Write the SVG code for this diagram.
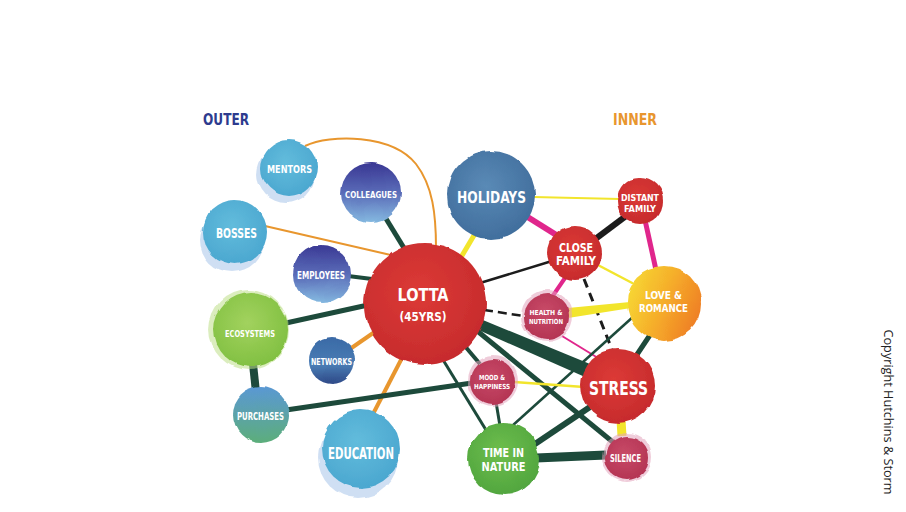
<svg xmlns="http://www.w3.org/2000/svg" width="906" height="512" viewBox="0 0 906 512">
<defs>
<style>
.lbl{font-family:"DejaVu Sans Condensed","DejaVu Sans",sans-serif;font-weight:bold;fill:#ffffff;text-anchor:middle}
.ttl{font-family:"DejaVu Sans Condensed","DejaVu Sans",sans-serif;font-weight:bold}
.g{stroke:#1d4a3b;fill:none}
.o{stroke:#e8962e;fill:none}
.y{stroke:#f2e52c;fill:none}
.m{stroke:#e0268c;fill:none}
.k{stroke:#1c1c1c;fill:none}
.halo{opacity:0.55}
</style>
<filter id="wc" x="-15%" y="-15%" width="130%" height="130%">
<feTurbulence type="fractalNoise" baseFrequency="0.045" numOctaves="2" seed="4" result="n"/>
<feDisplacementMap in="SourceGraphic" in2="n" scale="5" xChannelSelector="R" yChannelSelector="G"/>
</filter>
<radialGradient id="red" cx="45%" cy="40%" r="65%"><stop offset="0" stop-color="#dc3a36"/><stop offset="1" stop-color="#c52a2c"/></radialGradient>
<radialGradient id="rasp" cx="45%" cy="40%" r="65%"><stop offset="0" stop-color="#c84a68"/><stop offset="1" stop-color="#b33352"/></radialGradient>
<radialGradient id="lblue" cx="45%" cy="40%" r="65%"><stop offset="0" stop-color="#62bcdc"/><stop offset="1" stop-color="#4aa6cf"/></radialGradient>
<radialGradient id="steel" cx="45%" cy="40%" r="65%"><stop offset="0" stop-color="#5a8ab6"/><stop offset="1" stop-color="#3f6c9b"/></radialGradient>
<linearGradient id="purp" x1="0" y1="0" x2="0" y2="1"><stop offset="0" stop-color="#3a3894"/><stop offset="0.5" stop-color="#5a6cb8"/><stop offset="1" stop-color="#84b8e0"/></linearGradient>
<linearGradient id="netw" x1="0" y1="0" x2="0" y2="1"><stop offset="0" stop-color="#3a6aa6"/><stop offset="0.6" stop-color="#4a7cb4"/><stop offset="1" stop-color="#2e4a88"/></linearGradient>
<radialGradient id="eco" cx="45%" cy="40%" r="65%"><stop offset="0" stop-color="#a2d25e"/><stop offset="1" stop-color="#7fbf40"/></radialGradient>
<linearGradient id="purch" x1="0" y1="0" x2="0" y2="1"><stop offset="0" stop-color="#5a98d4"/><stop offset="1" stop-color="#5cae7a"/></linearGradient>
<radialGradient id="tin" cx="45%" cy="40%" r="65%"><stop offset="0" stop-color="#6ebe4c"/><stop offset="1" stop-color="#4fa43e"/></radialGradient>
<linearGradient id="love" x1="0" y1="0.3" x2="1" y2="0.7"><stop offset="0" stop-color="#f7d832"/><stop offset="0.55" stop-color="#f5a82a"/><stop offset="1" stop-color="#ee7c24"/></linearGradient>
</defs>
<rect width="906" height="512" fill="#ffffff"/>

<text class="ttl" x="203" y="125" font-size="16" fill="#2d3b8e" textLength="46" lengthAdjust="spacingAndGlyphs">OUTER</text>
<text class="ttl" x="613" y="125" font-size="16" fill="#e8962e" textLength="44" lengthAdjust="spacingAndGlyphs">INNER</text>

<g id="connectors" stroke-linecap="butt">
<path class="o" stroke-width="2" d="M305,146 C330,134 392,134 416,164 C433,186 436,215 436,248"/>
<line class="o" stroke-width="2" x1="265" y1="226" x2="395" y2="256"/>
<line class="g" stroke-width="5" x1="385" y1="217" x2="404" y2="248"/>
<line class="g" stroke-width="4" x1="348" y1="276" x2="372" y2="279"/>
<line class="g" stroke-width="5" x1="286" y1="323" x2="368" y2="305"/>
<line class="o" stroke-width="4" x1="350" y1="349" x2="376" y2="331"/>
<line class="o" stroke-width="4" x1="373" y1="414" x2="403" y2="356"/>
<line class="g" stroke-width="8" x1="253" y1="364" x2="256" y2="392"/>
<line class="g" stroke-width="5" x1="286" y1="410" x2="472" y2="383"/>
<line class="y" stroke-width="5" x1="476" y1="232" x2="460" y2="259"/>
<line class="y" stroke-width="2" x1="533" y1="197" x2="620" y2="199"/>
<line class="m" stroke-width="6" x1="526" y1="216" x2="558" y2="236"/>
<line class="k" stroke-width="6" x1="594" y1="240" x2="626" y2="216"/>
<line class="m" stroke-width="5" x1="645" y1="220" x2="656" y2="270"/>
<line class="y" stroke-width="2.5" x1="596" y1="264" x2="636" y2="285"/>
<line class="k" stroke-width="2.5" x1="480" y1="283" x2="552" y2="261"/>
<line class="m" stroke-width="4" x1="567" y1="275" x2="552" y2="297"/>
<line class="k" stroke-width="3" stroke-dasharray="9,6" x1="584" y1="279" x2="613" y2="352"/>
<line class="k" stroke-width="2.5" stroke-dasharray="9,5" x1="484" y1="310" x2="524" y2="316"/>
<path fill="#f2e52c" d="M568,308 L630,302 L631,308 L568,318 Z"/>
<line class="m" stroke-width="2" x1="562" y1="336" x2="598" y2="358"/>
<line class="g" stroke-width="5" x1="650" y1="335" x2="636" y2="356"/>
<line class="g" stroke-width="2.5" x1="634" y1="316" x2="512" y2="426"/>
<path fill="#1d4a3b" d="M478,318 L590,364 L585,377 L474,328 Z"/>
<line class="g" stroke-width="5" x1="470" y1="325" x2="614" y2="443"/>
<line class="g" stroke-width="3" x1="437" y1="350" x2="486" y2="430"/>
<line class="g" stroke-width="4" x1="458" y1="338" x2="480" y2="364"/>
<line class="y" stroke-width="2.5" x1="514" y1="382" x2="584" y2="387"/>
<line class="g" stroke-width="3" x1="496" y1="402" x2="500" y2="426"/>
<line class="g" stroke-width="6" x1="590" y1="407" x2="532" y2="446"/>
<line class="g" stroke-width="9" x1="536" y1="458" x2="606" y2="455"/>
<line class="y" stroke-width="9" x1="621" y1="420" x2="622" y2="436"/>
</g>

<g id="node-mentors">
<circle class="halo" cx="286" cy="174" r="29" fill="#a9c6ea" filter="url(#wc)"/>
<circle cx="289" cy="168" r="28" fill="url(#lblue)" filter="url(#wc)"/>
<text class="lbl" x="289.5" y="172.5" font-size="10" textLength="45" lengthAdjust="spacingAndGlyphs">MENTORS</text>
</g>
<g id="node-colleagues">
<circle cx="371" cy="193" r="30" fill="url(#purp)" filter="url(#wc)"/>
<text class="lbl" x="371" y="197.5" font-size="9.5" textLength="52" lengthAdjust="spacingAndGlyphs">COLLEAGUES</text>
</g>
<g id="node-bosses">
<circle class="halo" cx="232" cy="240" r="32" fill="#a9c6ea" filter="url(#wc)"/>
<circle cx="235" cy="232" r="32" fill="url(#lblue)" filter="url(#wc)"/>
<text class="lbl" x="236.5" y="238" font-size="13.5" textLength="41" lengthAdjust="spacingAndGlyphs">BOSSES</text>
</g>
<g id="node-employees">
<circle cx="322" cy="274" r="29" fill="url(#purp)" filter="url(#wc)"/>
<text class="lbl" x="321" y="278.5" font-size="10" textLength="48" lengthAdjust="spacingAndGlyphs">EMPLOYEES</text>
</g>
<g id="node-ecosystems">
<circle class="halo" cx="249" cy="330" r="40" fill="#bfe08a" filter="url(#wc)"/>
<circle cx="251" cy="330" r="37" fill="url(#eco)" filter="url(#wc)"/>
<text class="lbl" x="250" y="336.5" font-size="9.5" textLength="50" lengthAdjust="spacingAndGlyphs">ECOSYSTEMS</text>
</g>
<g id="node-networks">
<circle cx="332" cy="360" r="23" fill="url(#netw)" filter="url(#wc)"/>
<text class="lbl" x="331.5" y="364.5" font-size="9" textLength="41" lengthAdjust="spacingAndGlyphs">NETWORKS</text>
</g>
<g id="node-purchases">
<circle cx="261" cy="415" r="28" fill="url(#purch)" filter="url(#wc)"/>
<text class="lbl" x="260.5" y="420" font-size="10.5" textLength="47" lengthAdjust="spacingAndGlyphs">PURCHASES</text>
</g>
<g id="node-education">
<circle class="halo" cx="358" cy="458" r="40" fill="#a9c6ea" filter="url(#wc)"/>
<circle cx="361" cy="449" r="39" fill="url(#lblue)" filter="url(#wc)"/>
<text class="lbl" x="361" y="458.5" font-size="15" textLength="66" lengthAdjust="spacingAndGlyphs">EDUCATION</text>
</g>
<g id="node-lotta">
<circle cx="425" cy="304" r="61" fill="url(#red)" filter="url(#wc)"/>
<text class="lbl" x="423" y="301" font-size="18" textLength="51" lengthAdjust="spacingAndGlyphs">LOTTA</text>
<text class="lbl" x="423" y="321" font-size="12" textLength="47" lengthAdjust="spacingAndGlyphs">(45YRS)</text>
</g>
<g id="node-holidays">
<circle cx="491" cy="195" r="44" fill="url(#steel)" filter="url(#wc)"/>
<text class="lbl" x="491.5" y="203" font-size="16" textLength="69" lengthAdjust="spacingAndGlyphs">HOLIDAYS</text>
</g>
<g id="node-distant-family">
<circle cx="640" cy="201" r="23" fill="url(#red)" filter="url(#wc)"/>
<text class="lbl" x="640" y="200.5" font-size="9.5" textLength="38" lengthAdjust="spacingAndGlyphs">DISTANT</text>
<text class="lbl" x="640" y="212" font-size="9.5" textLength="32" lengthAdjust="spacingAndGlyphs">FAMILY</text>
</g>
<g id="node-close-family">
<circle cx="575" cy="253" r="27" fill="url(#red)" filter="url(#wc)"/>
<text class="lbl" x="576" y="251.5" font-size="11.5" textLength="34" lengthAdjust="spacingAndGlyphs">CLOSE</text>
<text class="lbl" x="576" y="265" font-size="11.5" textLength="40" lengthAdjust="spacingAndGlyphs">FAMILY</text>
</g>
<g id="node-love-romance">
<circle cx="664" cy="303" r="37" fill="url(#love)" filter="url(#wc)"/>
<text class="lbl" x="663.5" y="299" font-size="10.5" textLength="37" lengthAdjust="spacingAndGlyphs">LOVE &amp;</text>
<text class="lbl" x="663.5" y="312" font-size="10.5" textLength="49" lengthAdjust="spacingAndGlyphs">ROMANCE</text>
</g>
<g id="node-health-nutrition">
<circle class="halo" cx="547" cy="316" r="26" fill="#e3a4bc" filter="url(#wc)"/>
<circle cx="547" cy="317" r="23" fill="url(#rasp)" filter="url(#wc)"/>
<text class="lbl" x="546" y="315" font-size="7" textLength="33" lengthAdjust="spacingAndGlyphs">HEALTH &amp;</text>
<text class="lbl" x="546" y="324" font-size="7" textLength="34" lengthAdjust="spacingAndGlyphs">NUTRITION</text>
</g>
<g id="node-stress">
<circle cx="618" cy="386" r="37" fill="url(#red)" filter="url(#wc)"/>
<text class="lbl" x="618.5" y="395" font-size="20" textLength="59" lengthAdjust="spacingAndGlyphs">STRESS</text>
</g>
<g id="node-mood-happiness">
<circle class="halo" cx="493" cy="381" r="25" fill="#e3a4bc" filter="url(#wc)"/>
<circle cx="493" cy="382" r="22" fill="url(#rasp)" filter="url(#wc)"/>
<text class="lbl" x="492" y="380" font-size="7" textLength="26" lengthAdjust="spacingAndGlyphs">MOOD &amp;</text>
<text class="lbl" x="492" y="389" font-size="7" textLength="36" lengthAdjust="spacingAndGlyphs">HAPPINESS</text>
</g>
<g id="node-time-in-nature">
<circle cx="504" cy="459" r="36" fill="url(#tin)" filter="url(#wc)"/>
<text class="lbl" x="503.5" y="457" font-size="13" textLength="41" lengthAdjust="spacingAndGlyphs">TIME IN</text>
<text class="lbl" x="503.5" y="471" font-size="13" textLength="44" lengthAdjust="spacingAndGlyphs">NATURE</text>
</g>
<g id="node-silence">
<circle class="halo" cx="627" cy="457" r="25" fill="#e3a4bc" filter="url(#wc)"/>
<circle cx="627" cy="458" r="22" fill="url(#rasp)" filter="url(#wc)"/>
<text class="lbl" x="625.5" y="462" font-size="10" textLength="31" lengthAdjust="spacingAndGlyphs">SILENCE</text>
</g>

<text x="884" y="412" transform="rotate(90 884 412)" font-family="'Open Sans','DejaVu Sans',sans-serif" font-size="12" fill="#222222" text-anchor="middle" textLength="165" lengthAdjust="spacingAndGlyphs">Copyright Hutchins &amp; Storm</text>
</svg>
